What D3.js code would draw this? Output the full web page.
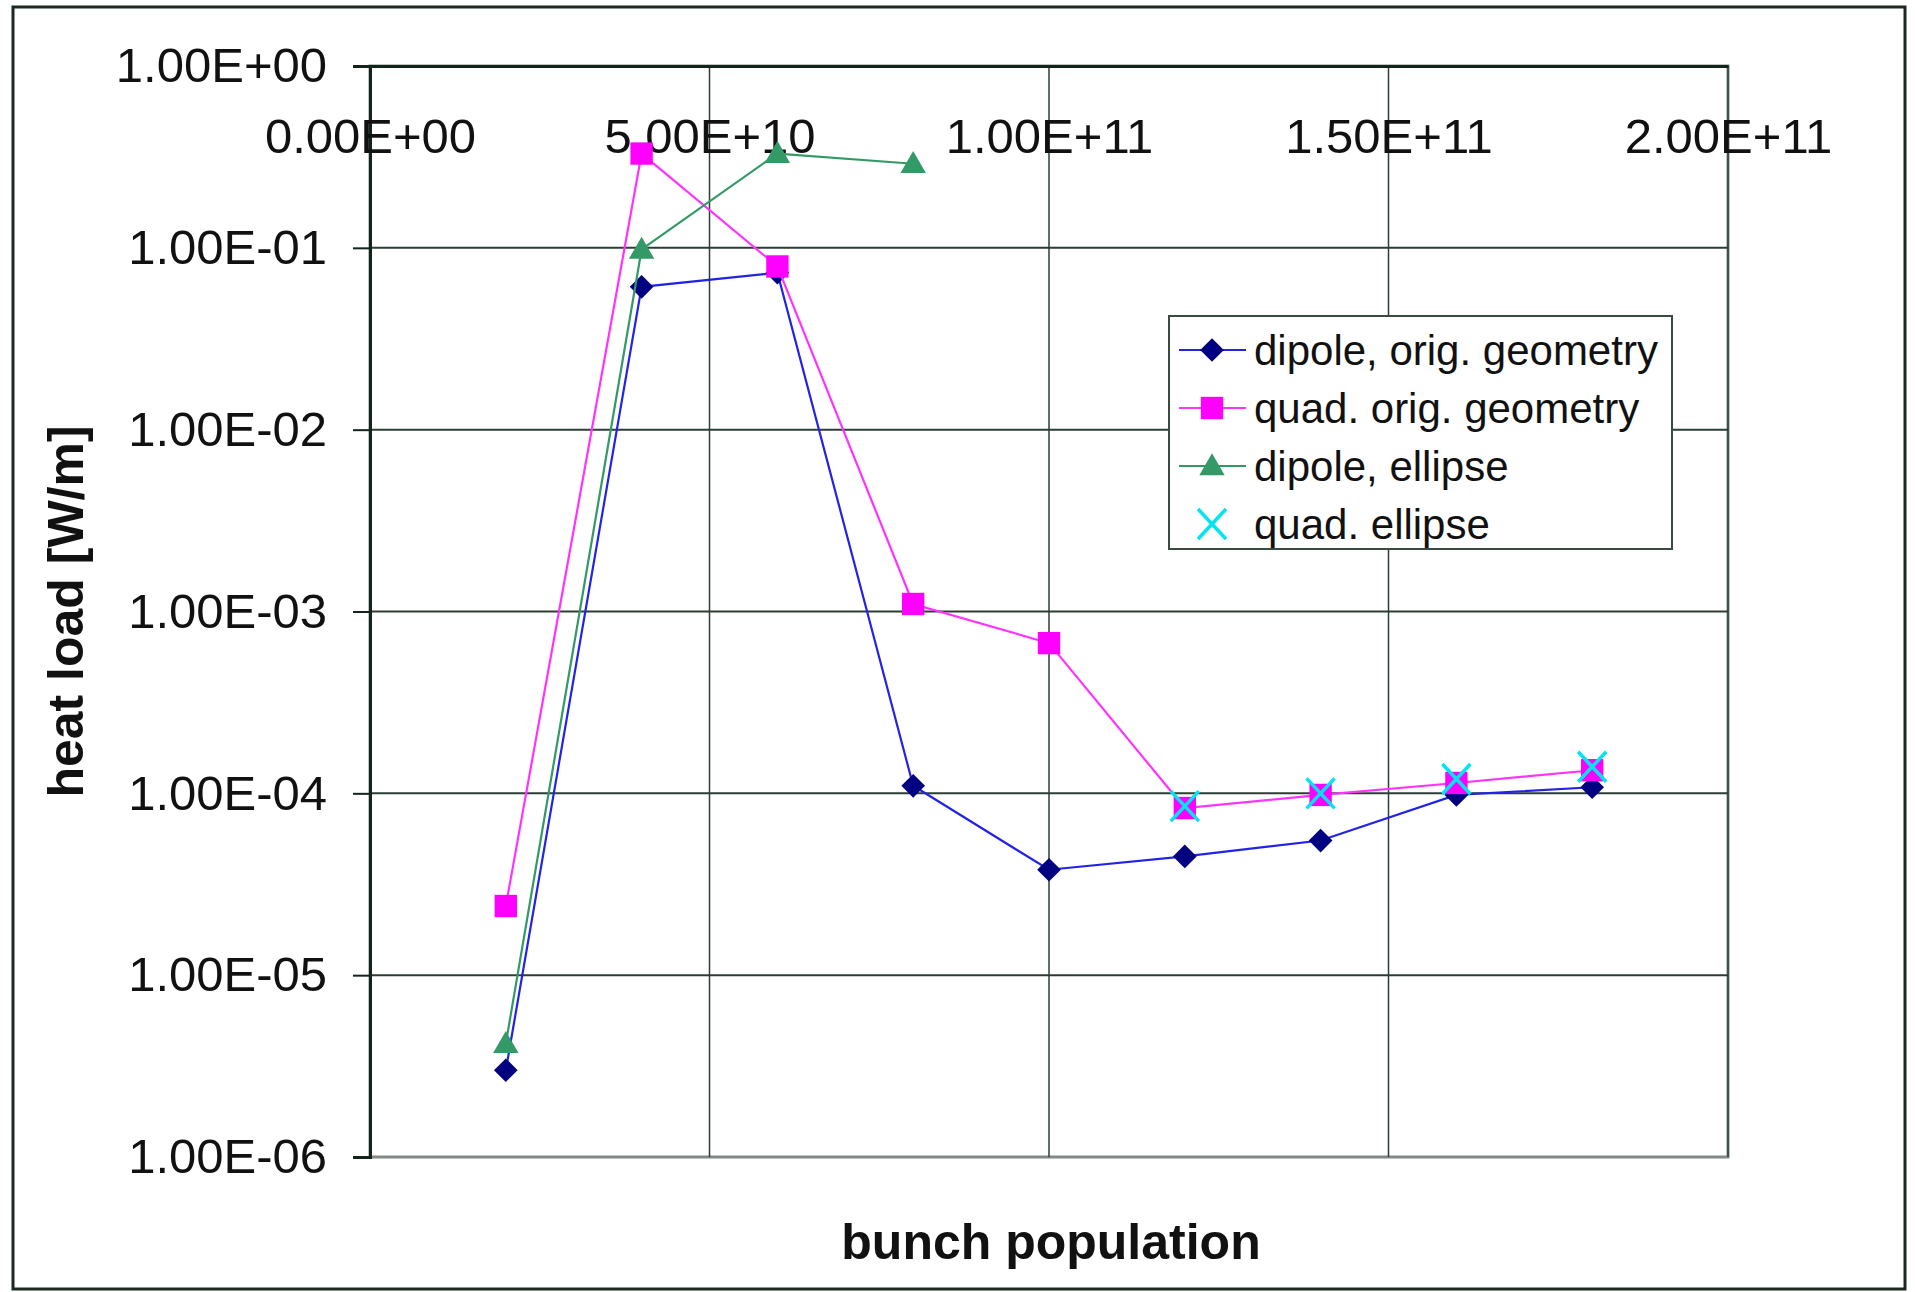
<!DOCTYPE html>
<html>
<head>
<meta charset="utf-8">
<script src="https://cdn.jsdelivr.net/npm/d3@7"></script>
<style>
  body { margin: 0; background: #fff; }
  text { font-family: "Liberation Sans", Arial, sans-serif; fill: #111; }
</style>
</head>
<body>
<div class="vis-chart"></div>
<script>
// bunch population values
const bunchPop = [2e10, 4e10, 6e10, 8e10, 1e11, 1.2e11, 1.4e11, 1.6e11, 1.8e11];
const dipoleOrig = [3.0e-6, 6.1e-2, 7.3e-2, 1.1e-4, 3.8e-5, 4.5e-5, 5.5e-5, 9.8e-5, 1.08e-4];
const quadOrig = [2.4e-5, 3.3e-1, 7.9e-2, 1.1e-3, 6.7e-4, 8.3e-5, 9.8e-5, 1.14e-4, 1.34e-4];
const dipoleEllipse = [4.2e-6, 9.8e-2, 3.3e-1, 2.9e-1, null, null, null, null, null];
const quadEllipse = [null, null, null, null, null, 8.5e-5, 1.0e-4, 1.2e-4, 1.4e-4];

const xTicks = [0, 5e10, 1e11, 1.5e11, 2e11];
const xTickLabels = ['0.00E+00', '5.00E+10', '1.00E+11', '1.50E+11', '2.00E+11'];
const yTicks = [1, 1e-1, 1e-2, 1e-3, 1e-4, 1e-5, 1e-6];
const yTickLabels = ['1.00E+00', '1.00E-01', '1.00E-02', '1.00E-03', '1.00E-04', '1.00E-05', '1.00E-06'];

const seriesNames = ['dipole, orig. geometry', 'quad. orig. geometry', 'dipole, ellipse', 'quad. ellipse'];

const W = 1915, H = 1292;
const margin = { top: 66, right: 187, bottom: 135, left: 370 };
const width = W - margin.left - margin.right;
const height = H - margin.top - margin.bottom;

const svg = d3.select('.vis-chart')
    .append('svg')
    .attr('width', W)
    .attr('height', H);

// outer frame
svg.append('rect')
    .attr('x', 13).attr('y', 7)
    .attr('width', 1892).attr('height', 1282)
    .attr('fill', 'none')
    .attr('stroke', '#1a2a20')
    .attr('stroke-width', 3);

const g = svg.append('g')
    .attr('transform', 'translate(' + margin.left + ',' + margin.top + ')');

const x = d3.scaleLinear().domain([0, 2e11]).range([0, width]);
const y = d3.scaleLog().domain([1e-6, 1]).range([height, 0]);

// plot area border
g.append('rect')
    .attr('width', width).attr('height', height)
    .attr('fill', 'none')
    .attr('stroke', '#7f8a84')
    .attr('stroke-width', 3);

// gridlines
g.selectAll('.vgrid')
    .data(xTicks.slice(1))
    .enter().append('line')
    .attr('x1', d => x(d)).attr('x2', d => x(d))
    .attr('y1', 0).attr('y2', height)
    .attr('stroke', '#2c3e34')
    .attr('stroke-width', 1.5);

g.selectAll('.hgrid')
    .data(yTicks.slice(1, -1))
    .enter().append('line')
    .attr('x1', 0).attr('x2', width)
    .attr('y1', d => y(d)).attr('y2', d => y(d))
    .attr('stroke', '#2c3e34')
    .attr('stroke-width', 2);

// y axis (left)
const yAxis = d3.axisLeft(y)
    .tickValues(yTicks)
    .tickFormat((d, i) => yTickLabels[i])
    .tickSize(17)
    .tickPadding(26);

const yG = g.append('g').call(yAxis);
yG.select('.domain').attr('stroke', '#14241a').attr('stroke-width', 3);
yG.selectAll('.tick line').attr('stroke', '#14241a').attr('stroke-width', 2);
yG.selectAll('.tick text')
    .style('font-size', '49px')
    .style('font-family', '"Liberation Sans", Arial, sans-serif')
    .attr('fill', '#111');

// x axis sits on the top (crosses at 1.00E+00), labels below it
const xAxis = d3.axisBottom(x)
    .tickValues(xTicks)
    .tickFormat((d, i) => xTickLabels[i])
    .tickSize(0)
    .tickPadding(52);

const xG = g.append('g').call(xAxis);
xG.select('.domain').attr('stroke', '#14241a').attr('stroke-width', 3);
xG.selectAll('.tick text')
    .style('font-size', '49px')
    .style('font-family', '"Liberation Sans", Arial, sans-serif')
    .attr('fill', '#111');

// axis titles
svg.append('text')
    .attr('transform', 'translate(83,' + (margin.top + height / 2) + ') rotate(-90)')
    .attr('text-anchor', 'middle')
    .style('font-size', '50px')
    .style('font-weight', 'bold')
    .text('heat load [W/m]');

svg.append('text')
    .attr('x', margin.left + width / 2 + 2)
    .attr('y', 1259)
    .attr('text-anchor', 'middle')
    .style('font-size', '50px')
    .style('font-weight', 'bold')
    .text('bunch population');

// series
const series = [
    { name: seriesNames[0], values: dipoleOrig, line: '#2323e6', fill: '#000080', shape: 'diamond', showLine: true },
    { name: seriesNames[1], values: quadOrig, line: '#ff33ff', fill: '#ff00ff', shape: 'square', showLine: true },
    { name: seriesNames[2], values: dipoleEllipse, line: '#339966', fill: '#339966', shape: 'triangle', showLine: true },
    { name: seriesNames[3], values: quadEllipse, line: 'none', fill: '#00e5f0', shape: 'cross', showLine: false }
];

const line = d3.line()
    .defined(d => d.v != null)
    .x(d => x(d.x))
    .y(d => y(d.v));

const symbolPath = {
    diamond: d3.symbol().type(d3.symbolSquare).size(280)(),
    square: d3.symbol().type(d3.symbolSquare).size(500)(),
    triangle: d3.symbol().type(d3.symbolTriangle).size(280)()
};

function drawMarker(sel, s) {
    if (s.shape === 'cross') {
        sel.append('path')
            .attr('d', 'M-14,-15L14,15M-14,15L14,-15')
            .attr('stroke', s.fill)
            .attr('stroke-width', 3.5)
            .attr('fill', 'none');
    } else {
        sel.append('path')
            .attr('d', symbolPath[s.shape])
            .attr('transform', s.shape === 'diamond' ? 'rotate(45)' : (s.shape === 'triangle' ? 'translate(0,2)' : null))
            .attr('fill', s.fill);
    }
}

series.forEach(function (s) {
    const pts = bunchPop.map((xv, i) => ({ x: xv, v: s.values[i] }));
    if (s.showLine) {
        g.append('path')
            .datum(pts)
            .attr('d', line)
            .attr('fill', 'none')
            .attr('stroke', s.line)
            .attr('stroke-width', 2.2);
    }
    g.selectAll('.m-' + s.shape)
        .data(pts.filter(d => d.v != null))
        .enter().append('g')
        .attr('class', 'm-' + s.shape)
        .attr('transform', d => 'translate(' + x(d.x) + ',' + y(d.v) + ')')
        .each(function () { drawMarker(d3.select(this), s); });
});

// legend
const legend = svg.append('g').attr('transform', 'translate(1169,316)');
legend.append('rect')
    .attr('width', 503).attr('height', 233)
    .attr('fill', '#fff')
    .attr('stroke', '#3a4a40')
    .attr('stroke-width', 2);

const legendG = legend.selectAll('.legend')
    .data(series)
    .enter().append('g')
    .attr('class', 'legend')
    .attr('transform', (d, i) => 'translate(0,' + (34 + i * 58) + ')');

legendG.filter(d => d.showLine).append('line')
    .attr('x1', 10).attr('x2', 77)
    .attr('stroke', d => d.line)
    .attr('stroke-width', 2);

legendG.append('g')
    .attr('transform', 'translate(43,0)')
    .each(function (d) { drawMarker(d3.select(this), d); });

legendG.append('text')
    .attr('x', 85)
    .attr('y', 15)
    .style('font-size', '42px')
    .text(d => d.name);
</script>
</body>
</html>
